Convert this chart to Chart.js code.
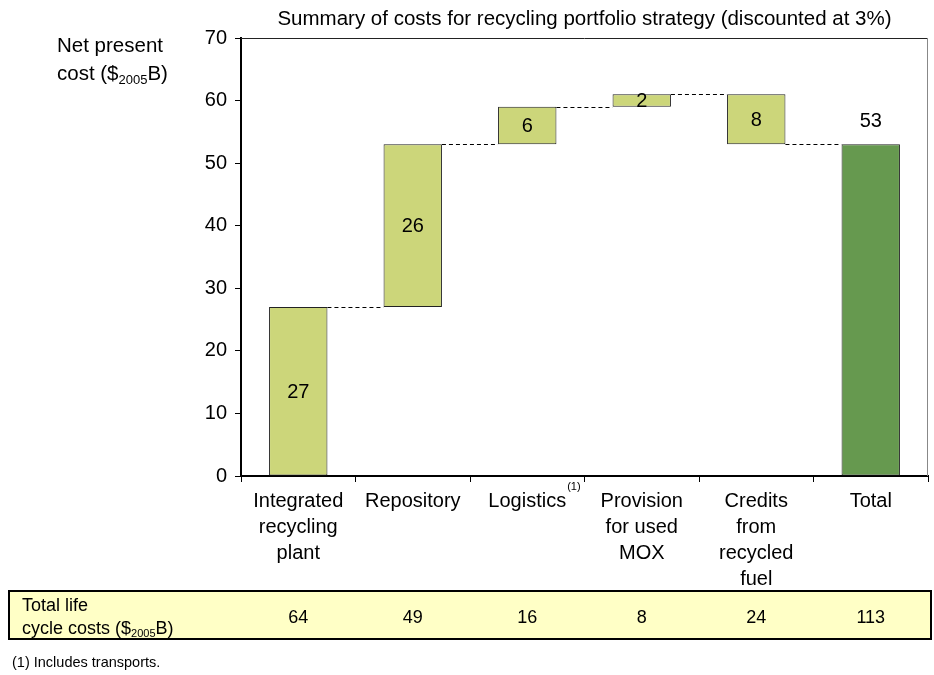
<!DOCTYPE html>
<html>
<head>
<meta charset="utf-8">
<script src="https://cdn.jsdelivr.net/npm/chart.js@4.4.0/dist/chart.umd.min.js"></script>
<style>
  body { margin: 0; background: #fff; }
  canvas { display: block; }
</style>
</head>
<body>
<canvas id="chart" width="934" height="675"></canvas>
<script>
// chart data
const categories = [
  ["Integrated", "recycling", "plant"],
  ["Repository"],
  ["Logistics"],
  ["Provision", "for used", "MOX"],
  ["Credits", "from", "recycled", "fuel"],
  ["Total"],
];
// step of each component (credits bring the total down)
const steps = [27, 26, 6, 2, -8];
const total = 53;
const lifeCycleCosts = [64, 49, 16, 8, 24, 113];
const yTicks = [0, 10, 20, 30, 40, 50, 60, 70];

const FONT = "'Liberation Sans', Arial, sans-serif";

// build floating bars from the steps
const floating = [];
const levels = [];
let run = 0;
steps.forEach(function (s) {
  const next = run + s;
  floating.push([Math.min(run, next), Math.max(run, next)]);
  run = next;
  levels.push(run);
});
floating.push([0, total]);
const barLabels = steps.map(function (s) { return String(Math.abs(s)); }).concat([String(total)]);
const barColors = steps.map(function () { return "#CCD67A"; }).concat(["#66994F"]);

const extras = {
  id: "extras",
  afterDatasetsDraw(chart) {
    const ctx = chart.ctx;
    const x = chart.scales.x;
    const y = chart.scales.y;
    const meta = chart.getDatasetMeta(0);
    const area = chart.chartArea;
    ctx.save();

    // dashed connectors
    ctx.strokeStyle = "#000";
    ctx.lineWidth = 1;
    ctx.setLineDash([4, 3]);
    levels.forEach(function (lv, i) {
      const a = meta.data[i];
      const b = meta.data[i + 1];
      const yy = Math.round(y.getPixelForValue(lv)) + 0.5;
      ctx.beginPath();
      ctx.moveTo(a.x + a.width / 2, yy);
      ctx.lineTo(b.x - b.width / 2, yy);
      ctx.stroke();
    });
    ctx.setLineDash([]);

    // bar value labels
    ctx.fillStyle = "#000";
    ctx.font = "20px " + FONT;
    ctx.textAlign = "center";
    ctx.textBaseline = "middle";
    meta.data.forEach(function (bar, i) {
      const r = floating[i];
      if (i === meta.data.length - 1) {
        ctx.fillText(barLabels[i], bar.x, y.getPixelForValue(r[1]) - 23);
      } else {
        ctx.fillText(barLabels[i], bar.x, y.getPixelForValue((r[0] + r[1]) / 2) + 1);
      }
    });

    // top and right frame
    ctx.lineWidth = 1;
    ctx.strokeStyle = "#222";
    ctx.beginPath();
    ctx.moveTo(area.left, area.top + 0.5);
    ctx.lineTo(area.right, area.top + 0.5);
    ctx.stroke();
    ctx.strokeStyle = "#888";
    ctx.beginPath();
    ctx.moveTo(area.right - 0.5, area.top);
    ctx.lineTo(area.right - 0.5, area.bottom);
    ctx.stroke();

    // title
    ctx.font = "20.5px " + FONT;
    ctx.textBaseline = "alphabetic";
    ctx.fillText("Summary of costs for recycling portfolio strategy (discounted at 3%)", (area.left + area.right) / 2, 25);

    // y axis title
    ctx.textAlign = "left";
    ctx.font = "20.5px " + FONT;
    ctx.fillText("Net present", 57, 52);
    let px = 57;
    ctx.fillText("cost ($", px, 80);
    px += ctx.measureText("cost ($").width;
    ctx.font = "13px " + FONT;
    ctx.fillText("2005", px, 84);
    px += ctx.measureText("2005").width;
    ctx.font = "20.5px " + FONT;
    ctx.fillText("B)", px, 80);

    // footnote mark on Logistics
    ctx.font = "20px " + FONT;
    const lw = ctx.measureText("Logistics").width;
    ctx.font = "11px " + FONT;
    ctx.fillText("(1)", x.getPixelForValue(2) + lw / 2 + 1, 490);

    // life cycle cost table
    const top = 591, bottom = 639, left = 9, right = 931;
    ctx.fillStyle = "#FFFFC6";
    ctx.fillRect(left, top, right - left, bottom - top);
    ctx.strokeStyle = "#000";
    ctx.lineWidth = 2;
    ctx.strokeRect(left, top, right - left, bottom - top);
    ctx.fillStyle = "#000";
    ctx.font = "18px " + FONT;
    ctx.fillText("Total life", 22, 611);
    px = 22;
    ctx.fillText("cycle costs ($", px, 634);
    px += ctx.measureText("cycle costs ($").width;
    ctx.font = "11px " + FONT;
    ctx.fillText("2005", px, 637);
    px += ctx.measureText("2005").width;
    ctx.font = "18px " + FONT;
    ctx.fillText("B)", px, 634);
    ctx.textAlign = "center";
    ctx.font = "18px " + FONT;
    lifeCycleCosts.forEach(function (v, i) {
      ctx.fillText(String(v), x.getPixelForValue(i), 623);
    });

    // footnote
    ctx.textAlign = "left";
    ctx.font = "14.5px " + FONT;
    ctx.fillText("(1) Includes transports.", 12, 667);

    ctx.restore();
  },
};

window.onload = function () {
  const ctx = document.getElementById("chart").getContext("2d");
  new Chart(ctx, {
    type: "bar",
    data: {
      labels: categories,
      datasets: [
        {
          data: floating,
          backgroundColor: barColors,
          borderColor: "#222",
          borderWidth: 1,
          borderSkipped: false,
          barPercentage: 0.51,
          categoryPercentage: 1,
        },
      ],
    },
    options: {
      responsive: false,
      animation: false,
      layout: { padding: { top: 38, right: 6, left: 0, bottom: 0 } },
      plugins: {
        legend: { display: false },
        tooltip: { enabled: false },
      },
      scales: {
        x: {
          afterFit: function (scale) { scale.height = 199; },
          grid: {
            drawOnChartArea: false,
            color: "#000",
            tickLength: 6,
            tickWidth: 1,
          },
          border: { color: "#000", width: 2 },
          ticks: {
            color: "#000",
            padding: 6,
            maxRotation: 0,
            autoSkip: false,
            font: { family: FONT, size: 20, lineHeight: 1.3 },
          },
        },
        y: {
          min: yTicks[0],
          max: yTicks[yTicks.length - 1],
          afterFit: function (scale) { scale.width = 241; },
          afterBuildTicks: function (scale) {
            scale.ticks = yTicks.map(function (v) { return { value: v }; });
          },
          grid: {
            drawOnChartArea: false,
            color: "#000",
            tickLength: 6,
            tickWidth: 1,
          },
          border: { color: "#000", width: 2 },
          ticks: {
            color: "#000",
            padding: 8,
            font: { family: FONT, size: 20 },
          },
        },
      },
    },
    plugins: [extras],
  });
};
</script>
</body>
</html>
